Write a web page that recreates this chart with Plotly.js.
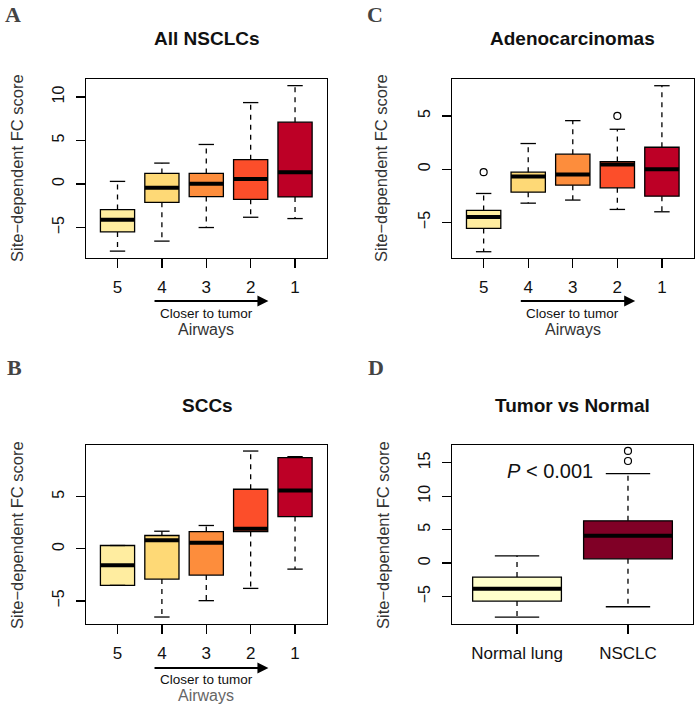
<!DOCTYPE html>
<html>
<head>
<meta charset="utf-8">
<script src="https://cdn.plot.ly/plotly-3.0.1.min.js"></script>
<style>html,body{margin:0;padding:0;background:#fff;}#chart{width:696px;height:709px;}</style>
</head>
<body>
<div id="chart"></div>
<script>
// ---------- data ----------
const airwayPos = [1, 2, 3, 4, 5];
const airwayLabels = ['5', '4', '3', '2', '1'];
const airwayColors = ['#FFEDA0', '#FED976', '#FD8D3C', '#FC4E2A', '#BD0026'];

// A: All NSCLCs
const A_q1  = [-5.5, -2.1, -1.45, -1.76, -1.49];
const A_med = [-4.12, -0.42, 0.04, 0.57, 1.34];
const A_q3  = [-2.94, 1.22, 1.22, 2.79, 7.1];
const A_lo  = [-7.71, -6.56, -5.0, -3.82, -3.97];
const A_hi  = [0.3, 2.4, 4.54, 9.35, 11.3];

// C: Adenocarcinomas
const C_q1  = [-5.56, -2.16, -1.5, -1.75, -2.53];
const C_med = [-4.5, -0.69, -0.5, 0.44, 0.0];
const C_q3  = [-3.875, -0.28, 1.41, 0.72, 2.06];
const C_lo  = [-7.75, -3.19, -2.9, -3.78, -4.0];
const C_hi  = [-2.28, 2.41, 4.56, 3.75, 7.84];
const C_outX = [1, 4];
const C_outY = [-0.28, 5.0];

// B: SCCs
const B_q1  = [-3.51, -2.91, -2.52, 1.66, 3.1];
const B_med = [-1.57, 0.83, 0.58, 1.92, 5.59];
const B_q3  = [0.32, 1.28, 1.66, 5.72, 8.75];
const B_lo  = [-3.51, -6.55, -4.98, -3.8, -1.95];
const B_hi  = [0.32, 1.69, 2.24, 9.39, 8.85];

// D: Tumor vs Normal
const D_pos = [1, 2];
const D_labels = ['Normal lung', 'NSCLC'];
const D_colors = ['#FFFFCC', '#800026'];
const D_q1  = [-5.67, 0.65];
const D_med = [-3.83, 4.08];
const D_q3  = [-2.09, 6.32];
const D_lo  = [-8.06, -6.52];
const D_hi  = [1.09, 13.38];
const D_outX = [2, 2];
const D_outY = [15.27, 16.77];

// ---------- builders ----------
const traces = [];
function panel(xa, ya, pos, q1, med, q3, lo, hi, colors, bw, capFrac) {
  const hw = bw / 2, cw = bw * capFrac / 2;
  const wx = [], wy = [], cx = [], cy = [], mx = [], my = [];
  pos.forEach((p, i) => {
    traces.push({
      type: 'box', xaxis: xa, yaxis: ya, x: [p],
      q1: [q1[i]], median: [med[i]], q3: [q3[i]],
      lowerfence: [q1[i]], upperfence: [q3[i]],
      width: bw, whiskerwidth: 0, boxpoints: false,
      fillcolor: colors[i], line: {color: '#000', width: 1.3},
      showlegend: false, hoverinfo: 'skip'
    });
    wx.push(p, p, null, p, p, null);
    wy.push(q3[i], hi[i], null, q1[i], lo[i], null);
    cx.push(p - cw, p + cw, null, p - cw, p + cw, null);
    cy.push(hi[i], hi[i], null, lo[i], lo[i], null);
    mx.push(p - hw, p + hw, null);
    my.push(med[i], med[i], null);
  });
  traces.push({type: 'scatter', mode: 'lines', xaxis: xa, yaxis: ya, x: wx, y: wy,
    line: {color: '#000', width: 1.3, dash: '5px,5px'}, showlegend: false, hoverinfo: 'skip'});
  traces.push({type: 'scatter', mode: 'lines', xaxis: xa, yaxis: ya, x: cx, y: cy,
    line: {color: '#000', width: 1.3}, showlegend: false, hoverinfo: 'skip'});
  traces.push({type: 'scatter', mode: 'lines', xaxis: xa, yaxis: ya, x: mx, y: my,
    line: {color: '#000', width: 4}, showlegend: false, hoverinfo: 'skip'});
}
function outliers(xa, ya, xs, ys) {
  traces.push({type: 'scatter', mode: 'markers', xaxis: xa, yaxis: ya, x: xs, y: ys,
    marker: {symbol: 'circle-open', size: 7, color: '#000', line: {width: 1.2}},
    showlegend: false, hoverinfo: 'skip'});
}

panel('x', 'y', airwayPos, A_q1, A_med, A_q3, A_lo, A_hi, airwayColors, 0.77, 0.45);
panel('x2', 'y2', airwayPos, C_q1, C_med, C_q3, C_lo, C_hi, airwayColors, 0.77, 0.45);
outliers('x2', 'y2', C_outX, C_outY);
panel('x3', 'y3', airwayPos, B_q1, B_med, B_q3, B_lo, B_hi, airwayColors, 0.77, 0.45);
panel('x4', 'y4', D_pos, D_q1, D_med, D_q3, D_lo, D_hi, D_colors, 0.8, 0.5);
outliers('x4', 'y4', D_outX, D_outY);

// ---------- layout ----------
const W = 696, H = 709;
const px = v => v / W, py = v => 1 - v / H;

function xax(domain, range, tv, tt, anchor) {
  return {domain: domain, range: range, tickvals: tv, ticktext: tt, anchor: anchor,
    ticks: 'outside', ticklen: 9, tickwidth: 1.3, tickcolor: '#000',
    showline: true, mirror: true, linecolor: '#000', linewidth: 1.4,
    showgrid: false, zeroline: false, tickfont: {size: 17, color: '#111'},
    ticklabelstandoff: 4, fixedrange: true};
}
function yax(domain, range, tv, anchor) {
  return {domain: domain, range: range, tickvals: tv, anchor: anchor,
    ticks: 'outside', ticklen: 9, tickwidth: 1.3, tickcolor: '#000', tickangle: -90,
    showline: true, mirror: true, linecolor: '#000', linewidth: 1.4,
    showgrid: false, zeroline: false, tickfont: {size: 16, color: '#111'},
    ticklabelstandoff: 5, fixedrange: true};
}

const annotations = [];
function txt(x, y, text, size, opts) {
  annotations.push(Object.assign({xref: 'paper', yref: 'paper', x: px(x), y: py(y), text: text,
    showarrow: false, xanchor: 'center', yanchor: 'middle', font: {size: size, color: '#111'}}, opts || {}));
}
// panel letters
const letterFont = {family: 'Liberation Serif, Times New Roman, serif', size: 22, color: '#444'};
txt(13, 15, '<b>A</b>', 22, {font: letterFont});
txt(375, 15, '<b>C</b>', 22, {font: letterFont});
txt(14, 367, '<b>B</b>', 22, {font: letterFont});
txt(376, 367, '<b>D</b>', 22, {font: letterFont});
// titles
txt(207, 38, '<b>All NSCLCs</b>', 19);
txt(572, 38, '<b>Adenocarcinomas</b>', 19);
txt(207, 405, '<b>SCCs</b>', 19);
txt(572, 405, '<b>Tumor vs Normal</b>', 19);
// y titles
const yt = 'Site\u2212dependent FC score';
txt(17, 168, yt, 16.5, {textangle: -90, font: {size: 16.5, color: '#333'}});
txt(381, 168, yt, 16.5, {textangle: -90, font: {size: 16.5, color: '#333'}});
txt(17, 535, yt, 16.5, {textangle: -90, font: {size: 16.5, color: '#333'}});
txt(383, 535, yt, 16.5, {textangle: -90, font: {size: 16.5, color: '#333'}});
// arrows + captions
function arrowCap(xa, yArrow, yCloser, yAirways, airCol) {
  annotations.push({xref: xa, yref: 'paper', x: 4.4, y: py(yArrow), axref: xa, ax: 1.8,
    ayref: 'pixel', ay: 0, text: '', showarrow: true, arrowhead: 2, arrowsize: 1.1,
    arrowwidth: 2, arrowcolor: '#000', standoff: 0, startstandoff: 0});
  annotations.push({xref: xa, yref: 'paper', x: 3, y: py(yCloser), text: 'Closer to tumor',
    showarrow: false, xanchor: 'center', yanchor: 'middle', font: {size: 13.5, color: '#111'}});
  annotations.push({xref: xa, yref: 'paper', x: 3, y: py(yAirways), text: 'Airways',
    showarrow: false, xanchor: 'center', yanchor: 'middle', font: {size: 16, color: airCol}});
}
arrowCap('x', 301, 313, 330, '#333');
arrowCap('x2', 301, 313, 330, '#333');
arrowCap('x3', 668, 679, 695, '#666');
// p-value
annotations.push({xref: 'x4', yref: 'y4', x: 1.3, y: 13.8, text: '<i>P</i> &lt; 0.001',
  showarrow: false, xanchor: 'center', yanchor: 'middle', font: {size: 20, color: '#111'}});

const layout = {
  width: W, height: H, margin: {l: 0, r: 0, t: 0, b: 0},
  paper_bgcolor: '#fff', plot_bgcolor: '#fff', showlegend: false, boxmode: 'overlay',
  font: {family: 'Liberation Sans, Arial, sans-serif', color: '#111'},
  xaxis:  xax([px(86), px(327)], [0.29, 5.72], airwayPos, airwayLabels, 'y'),
  yaxis:  yax([py(258), py(79)], [-8.5, 12.06], [-5, 0, 5, 10], 'x'),
  xaxis2: xax([px(452), px(694)], [0.29, 5.72], airwayPos, airwayLabels, 'y2'),
  yaxis2: yax([py(258), py(79)], [-8.34, 8.47], [-5, 0, 5], 'x2'),
  xaxis3: xax([px(86), px(327)], [0.29, 5.72], airwayPos, airwayLabels, 'y3'),
  yaxis3: yax([py(624), py(445)], [-7.22, 9.97], [-5, 0, 5], 'x3'),
  xaxis4: xax([px(452), px(693)], [0.414, 2.586], D_pos, D_labels, 'y4'),
  yaxis4: yax([py(624), py(445)], [-9.1, 17.66], [-5, 0, 5, 10, 15], 'x4'),
  annotations: annotations
};

Plotly.newPlot('chart', traces, layout, {staticPlot: true, displayModeBar: false});
</script>
</body>
</html>
